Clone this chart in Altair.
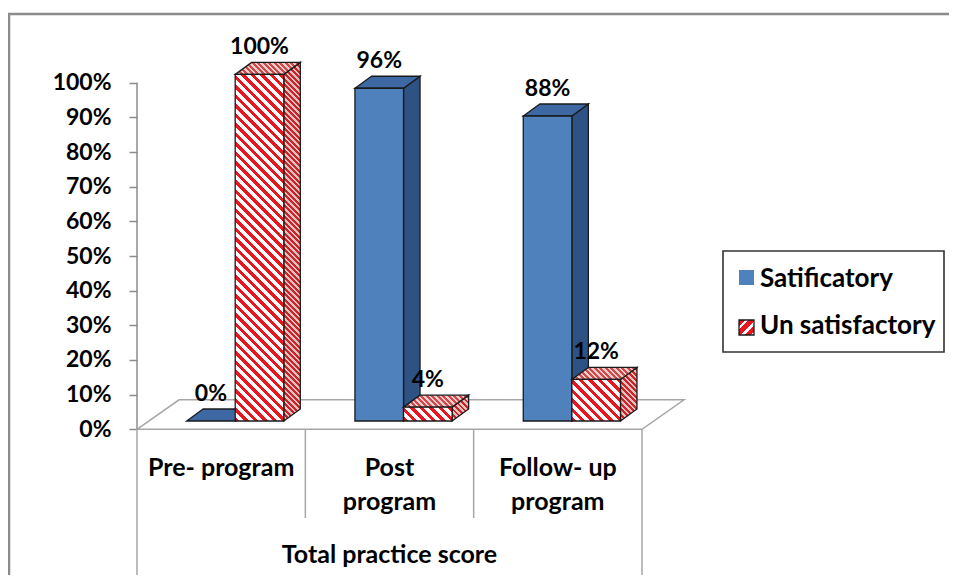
import altair as alt
import pandas as pd

# ---------------- data ----------------
categories = ["Pre- program", "Post program", "Follow- up program"]
category_labels = ["Pre- program", "Post\nprogram", "Follow- up\nprogram"]
satisfactory = [0.00, 0.96, 0.88]
unsatisfactory = [1.00, 0.04, 0.12]
series = ["Satificatory", "Un satisfactory"]
y_ticks = [0.0, 0.1, 0.2, 0.3, 0.4, 0.5, 0.6, 0.7, 0.8, 0.9, 1.0]
x_title = "Total practice score"

# ---------------- geometry / style ----------------
W, H = 941, 562
PX_CAT = 168.33       # pixels per category
PX_UNIT = 346.6       # pixels per 100 %
AXIS_X = 129.0
ZERO_Y = 416.3
x_dom = [-AXIS_X / PX_CAT, (W - AXIS_X) / PX_CAT]
y_dom = [-(H - ZERO_Y) / PX_UNIT, ZERO_Y / PX_UNIT]

BAR_START = 49.6 / PX_CAT
BAR_W_PX = 48.6
BAR_W = BAR_W_PX / PX_CAT
D_DX_PX, D_DY_PX = 16.5, 12.0
DDX = D_DX_PX / PX_CAT
DDY = D_DY_PX / PX_UNIT
BASE = 8.3 / PX_UNIT
FLOOR_DX = 42 / PX_CAT
FLOOR_DY = 29.5 / PX_UNIT
DIV_LOW = -88.7 / PX_UNIT

FONT = "Lato"
EDGE = "#1a1a1a"
BLUE, BLUE_SIDE, BLUE_TOP = "#4F81BD", "#2E5283", "#3D68A3"
RED = "#E8161E"
GRAY = "#8C8C8C"

xs = alt.Scale(domain=x_dom, nice=False, zero=False)
ys = alt.Scale(domain=y_dom, nice=False, zero=False)

yaxis = alt.Axis(values=y_ticks, format=".0%", offset=-AXIS_X, domain=False, grid=False,
                 ticks=True, tickSize=8, tickColor=GRAY, tickWidth=1.5,
                 labelFont=FONT, labelFontWeight="bold", labelFontSize=23,
                 labelColor="black", labelPadding=18, title=None)


def X(f, **kw):
    return alt.X(f, type="quantitative", scale=xs, axis=None, **kw)


def Y(f, **kw):
    return alt.Y(f, type="quantitative", scale=ys, axis=yaxis, **kw)


def hatch(w, h, period, fg, bg, frac=0.5, rising=False):
    """Diagonal stripes as a hard-stop linear gradient (bounding-box units)."""
    span = w + h
    k = span / (w * w + h * h)
    if rising:   # "/" stripes
        x1, y1, x2, y2 = 0, 0, k * w, k * h
    else:        # "\" stripes
        x1, y1, x2, y2 = 0, 1, k * w, 1 - k * h
    stops = []
    pos = 0.0
    while pos < span - 1e-9:
        a = pos / span
        b = min((pos + frac * period) / span, 1.0)
        c = min((pos + period) / span, 1.0)
        stops += [(a, fg), (b, fg), (b, bg), (c, bg)]
        pos += period
    return {
        "gradient": "linear",
        "x1": x1, "y1": y1, "x2": x2, "y2": y2,
        "stops": [{"offset": round(o, 5), "color": col} for o, col in stops],
    }


# ---------------- derived tables ----------------
rows, side_rows, top_rows = [], [], []
for i, cat in enumerate(categories):
    for s, vals in enumerate([satisfactory, unsatisfactory]):
        v = vals[i]
        xl = i + BAR_START + s * BAR_W
        xr = xl + BAR_W
        bid = f"{s}-{i}"
        rows.append(dict(bar=bid, s=s, cat=cat, value=v, xl=xl, xr=xr,
                         xm=(xl + xr) / 2, yb=BASE, yt=BASE + v))
        side_rows += [dict(bar=bid, s=s, value=v, x=xr, lo=BASE, hi=BASE + v),
                      dict(bar=bid, s=s, value=v, x=xr + DDX, lo=BASE + DDY, hi=BASE + v + DDY)]
        top_rows += [dict(bar=bid, s=s, value=v, y=BASE + v, xa=xl, xb=xr),
                     dict(bar=bid, s=s, value=v, y=BASE + v + DDY, xa=xl + DDX, xb=xr + DDX)]
bars = pd.DataFrame(rows)
sides = pd.DataFrame(side_rows)
tops = pd.DataFrame(top_rows)

layers = []

# y axis line (carries the axis)
axl = pd.DataFrame({"x": [0.0], "y0": [0.0], "y1": [1.0]})
layers.append(alt.Chart(axl).mark_rule(color=GRAY, strokeWidth=1.5).encode(
    x=X("x"), y=Y("y0"), y2="y1"))

# border (top & left)
one = pd.DataFrame({"a": [0]})
layers.append(alt.Chart(one).mark_rule(color=GRAY, strokeWidth=2.5).encode(
    x=alt.value(0), x2=alt.value(W), y=alt.value(1)))
layers.append(alt.Chart(one).mark_rule(color=GRAY, strokeWidth=2.5).encode(
    x=alt.value(1), y=alt.value(0), y2=alt.value(H)))

# floor
floor = pd.DataFrame({
    "x": [0, 3, 3 + FLOOR_DX, FLOOR_DX, 0],
    "y": [0, 0, FLOOR_DY, FLOOR_DY, 0],
    "k": [0, 1, 2, 3, 4],
})
layers.append(alt.Chart(floor).mark_line(color="#A6A6A6", strokeWidth=1.5).encode(
    x=X("x"), y=Y("y"), order="k:Q"))

# category dividers
div = pd.DataFrame({"x": [0, 1, 2, 3], "lo": [y_dom[0], DIV_LOW, DIV_LOW, y_dom[0]], "hi": [0, 0, 0, 0]})
layers.append(alt.Chart(div).mark_rule(color="#A6A6A6", strokeWidth=1.5).encode(
    x=X("x"), y=Y("lo"), y2="hi"))

# blue bars (solid)
b_side = sides[(sides.s == 0) & (sides.value > 0)]
b_top = tops[tops.s == 0]
b_front = bars[(bars.s == 0) & (bars.value > 0)]
layers.append(alt.Chart(b_side).mark_area(orient="vertical", fill=BLUE_SIDE, stroke=EDGE,
                                          strokeWidth=1.3, interpolate="linear").encode(
    x=X("x"), y=Y("hi", stack=None), y2="lo", detail="bar:N"))
layers.append(alt.Chart(b_top).mark_area(orient="horizontal", fill=BLUE_TOP, stroke=EDGE,
                                         strokeWidth=1.3, interpolate="linear").encode(
    y=Y("y"), x=X("xa", stack=None), x2="xb", detail="bar:N"))
layers.append(alt.Chart(b_front).mark_rect(fill=BLUE, stroke=EDGE, strokeWidth=1.3).encode(
    x=X("xl"), x2="xr", y=Y("yb"), y2="yt"))

# red hatched bars (one pattern per face)
for i in range(len(categories)):
    bid = f"1-{i}"
    v = unsatisfactory[i]
    h_px = v * PX_UNIT
    sd = sides[sides.bar == bid]
    tp = tops[tops.bar == bid]
    fr = bars[bars.bar == bid]
    layers.append(alt.Chart(sd).mark_area(
        orient="vertical", interpolate="linear", stroke=EDGE, strokeWidth=1.3,
        fill=hatch(D_DX_PX, h_px + D_DY_PX, 5.5, "#C8262A", "#E9BFBF")).encode(
        x=X("x"), y=Y("hi", stack=None), y2="lo"))
    layers.append(alt.Chart(tp).mark_area(
        orient="horizontal", interpolate="linear", stroke=EDGE, strokeWidth=1.3,
        fill=hatch(BAR_W_PX + D_DX_PX, D_DY_PX, 5.5, "#CF4A4A", "#F2CDCD")).encode(
        y=Y("y"), x=X("xa", stack=None), x2="xb"))
    layers.append(alt.Chart(fr).mark_rect(
        stroke=EDGE, strokeWidth=1.3,
        fill=hatch(BAR_W_PX, h_px, 9.5, RED, "#FFFFFF", 0.48)).encode(
        x=X("xl"), x2="xr", y=Y("yb"), y2="yt"))

# value labels
layers.append(alt.Chart(bars).mark_text(
    dy=-20, baseline="alphabetic", font=FONT, fontWeight="bold", fontSize=23, color="black").encode(
    x=X("xm"), y=Y("yt"), text=alt.Text("value:Q", format=".0%")))

# category labels
cl = pd.DataFrame({"x": [i + 0.5 for i in range(len(categories))], "label": category_labels})
layers.append(alt.Chart(cl).mark_text(
    lineBreak="\n", lineHeight=34, baseline="alphabetic", font=FONT, fontWeight="bold",
    fontSize=25, color="black").encode(x=X("x"), y=alt.value(463), text="label:N"))
tl = pd.DataFrame({"x": [len(categories) / 2], "label": [x_title]})
layers.append(alt.Chart(tl).mark_text(
    baseline="alphabetic", font=FONT, fontWeight="bold", fontSize=25, color="black").encode(
    x=X("x"), y=alt.value(550), text="label:N"))

# legend (drawn by hand so the hatched swatch can be shown)
layers.append(alt.Chart(one).mark_rect(fill="white", stroke="#333333", strokeWidth=1.6).encode(
    x=alt.value(715), x2=alt.value(936), y=alt.value(238), y2=alt.value(339)))
layers.append(alt.Chart(one).mark_rect(fill=BLUE).encode(
    x=alt.value(731), x2=alt.value(746), y=alt.value(257), y2=alt.value(272)))
layers.append(alt.Chart(one).mark_rect(fill=hatch(15, 15, 10.0, RED, "#FFFFFF", 0.62, rising=True),
                                       stroke=EDGE, strokeWidth=1.3).encode(
    x=alt.value(731), x2=alt.value(746), y=alt.value(307), y2=alt.value(322)))
for lab, yy in zip(series, [274, 321]):
    layers.append(alt.Chart(pd.DataFrame({"label": [lab]})).mark_text(
        align="left", baseline="alphabetic", font=FONT, fontWeight="bold", fontSize=26,
        color="black").encode(x=alt.value(752), y=alt.value(yy), text="label:N"))

chart = alt.layer(*layers).properties(
    width=W, height=H,
    padding={"left": 0, "top": 5, "right": 0, "bottom": 0},
    autosize=alt.AutoSizeParams(type="none"),
    background="white",
).configure_view(stroke=None)

chart.save("out.html", embed_options={"renderer": "svg", "actions": False})
